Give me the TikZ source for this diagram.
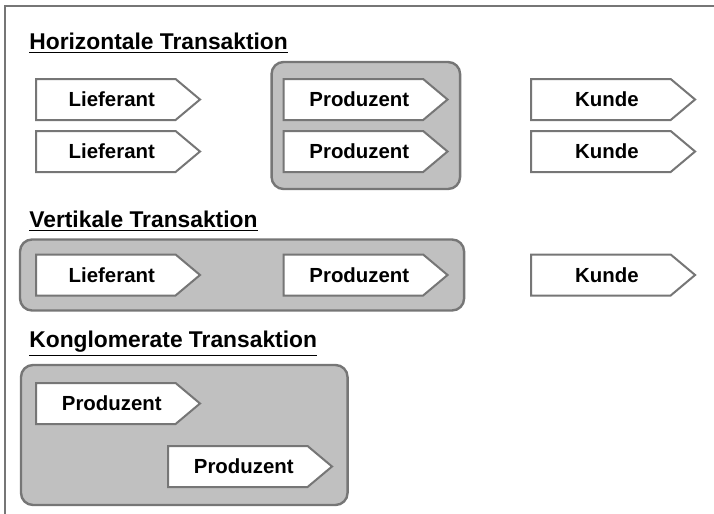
\documentclass[tikz,border=0pt]{standalone}
\usepackage{fontspec}
\setmainfont{Liberation Sans}
\usetikzlibrary{positioning,shapes.symbols,fit,backgrounds}
\definecolor{rahmengrau}{RGB}{118,118,118}
\definecolor{gruppengrau}{RGB}{192,192,192}

\begin{document}
\begin{tikzpicture}[
  x=0.5pt, y=-0.5pt,
  node distance=4.5pt and 40.5pt,
  font=\fontsize{10.2}{12}\selectfont\bfseries,
  akteur/.style={draw=rahmengrau, fill=white, line width=1pt, shape=signal, signal to=east,
                 signal pointer angle=80, minimum width=82pt, minimum height=20.5pt, inner sep=0pt,
                 execute at begin node=\kern6pt},
  gruppe/.style={draw=rahmengrau, fill=gruppengrau, line width=1.2pt, rounded corners=6pt},
  titel/.style={anchor=west, inner sep=0pt, font=\fontsize{11.4}{13}\selectfont\bfseries},
]
\useasboundingbox (0,0) rectangle (714,514);

% Rahmen
\draw[rahmengrau, line width=1pt] (5,514) -- (5,6) -- (714,6);

% Horizontale Transaktion
\node[titel] (t-hor) at (29,43) {\underline{Horizontale Transaktion}};
\node[akteur, anchor=west] (h-lief1) at (35,99.5) {Lieferant};
\node[akteur, below=of h-lief1] (h-lief2) {Lieferant};
\node[akteur, right=of h-lief1] (h-prod1) {Produzent};
\node[akteur, below=of h-prod1] (h-prod2) {Produzent};
\node[akteur, right=of h-prod1] (h-kund1) {Kunde};
\node[akteur, below=of h-kund1] (h-kund2) {Kunde};

% Vertikale Transaktion
\node[titel] (t-ver) at (29,221) {\underline{Vertikale Transaktion}};
\node[akteur, anchor=west] (v-lief) at (35,275) {Lieferant};
\node[akteur, right=of v-lief] (v-prod) {Produzent};
\node[akteur, right=of v-prod] (v-kund) {Kunde};

% Konglomerate Transaktion
\node[titel] (t-kon) at (29,344) {\underline{Konglomerate Transaktion}};
\node[akteur, anchor=west] (k-prod1) at (35,403.5) {Produzent};
\node[akteur, anchor=west] (k-prod2) at (167,466.5) {Produzent};

% Gruppen
\begin{scope}[on background layer]
  \node[gruppe, fit=(h-prod1)(h-prod2), inner xsep=5.5pt, inner ysep=8pt] (g-hor) {};
  \node[gruppe, fit=(v-lief)(v-prod), inner xsep=7.5pt, inner ysep=7pt] (g-ver) {};
  \node[gruppe, fit=(k-prod1)(k-prod2), inner xsep=7pt, inner ysep=8.5pt] (g-kon) {};
\end{scope}

\end{tikzpicture}
\end{document}
